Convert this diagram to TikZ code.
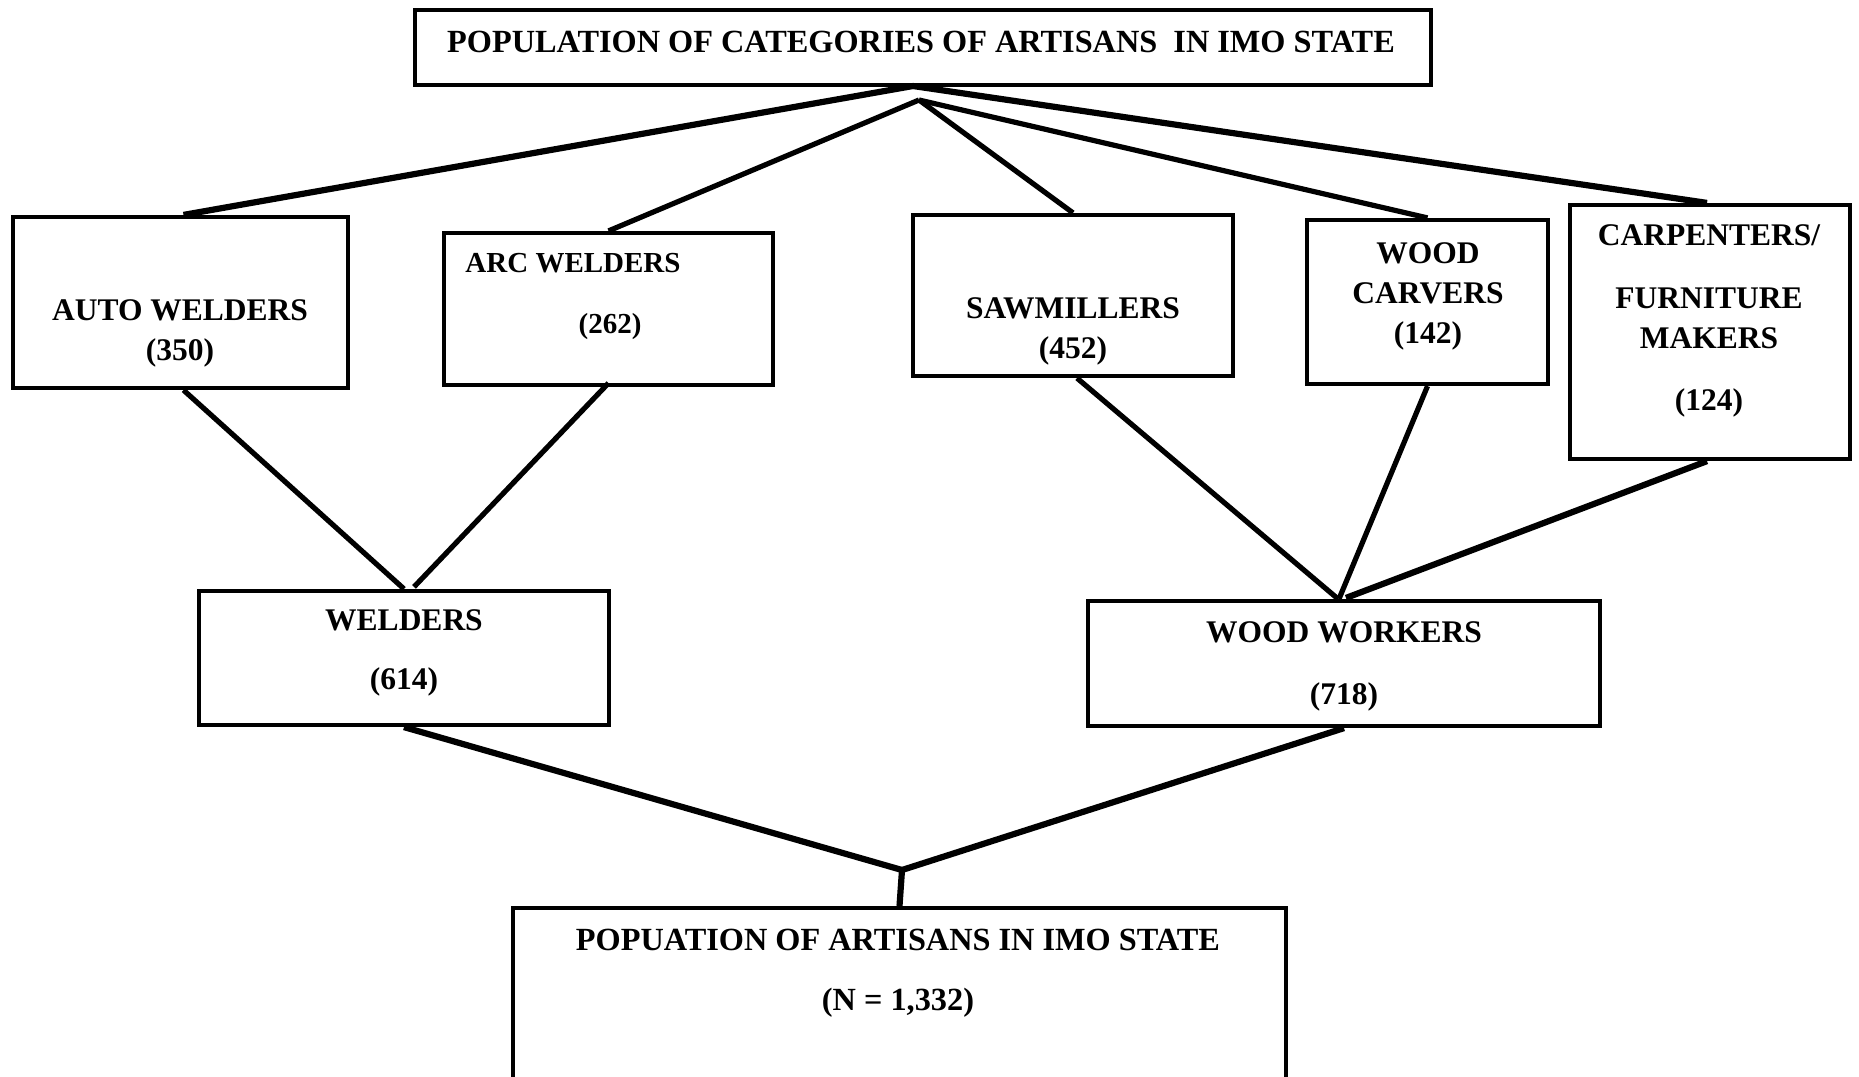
\documentclass[tikz,border=0pt]{standalone}
\usepackage{fontspec}
\setmainfont{Liberation Serif}
\begin{document}
\begin{tikzpicture}[x=1pt,y=-1pt,
  box/.style={draw=black,line width=4.2pt,rectangle,inner sep=0pt,fill=none},
  txt/.style={inner sep=0pt,align=center,font=\fontsize{31.5}{40}\selectfont\bfseries},
  bigtxt/.style={txt,font=\fontsize{32.3}{40}\selectfont\bfseries},
  smalltxt/.style={txt,font=\fontsize{29}{40}\selectfont\bfseries},
  conn/.style={line width=5.2pt,black},
  thickconn/.style={line width=6.2pt,black}]
\useasboundingbox (0,0) rectangle (1859,1076);
\clip (0,0) rectangle (1859,1076);
\fill[white] (0,0) rectangle (1859,1076);
% boxes
\node[box,minimum width=1016pt,minimum height=75pt] (title) at (923,47.5) {};
\node[box,minimum width=335pt,minimum height=171pt] (aw) at (180.5,302.5) {};
\node[box,minimum width=329pt,minimum height=152pt] (arc) at (608.5,309) {};
\node[box,minimum width=320pt,minimum height=161pt] (saw) at (1073,295.5) {};
\node[box,minimum width=241pt,minimum height=164pt] (carv) at (1427.5,302) {};
\node[box,minimum width=280pt,minimum height=254pt] (carp) at (1710,332) {};
\node[box,minimum width=410pt,minimum height=134pt] (wel) at (404,658) {};
\node[box,minimum width=512pt,minimum height=125pt] (ww) at (1344,663.5) {};
\node[box,minimum width=773pt,minimum height=192pt] (pop) at (899.5,1004) {};
% texts
\node[bigtxt,anchor=base] (titlet) at (921,52) {POPULATION OF CATEGORIES OF ARTISANS\ \ IN IMO STATE};
\node[txt,anchor=north] (awt) at (180,299) {AUTO WELDERS\\(350)};
\node[smalltxt,anchor=base] (arct1) at (573,272) {ARC WELDERS};
\node[smalltxt,anchor=base] (arct2) at (610,333) {(262)};
\node[txt,anchor=north] (sawt) at (1073,297) {SAWMILLERS\\(452)};
\node[txt,anchor=north] (carvt) at (1428,242) {WOOD\\CARVERS\\(142)};
\node[txt,anchor=north] (carpt) at (1709,224) {CARPENTERS/\\[23pt]FURNITURE\\MAKERS\\[22pt](124)};
\node[txt,anchor=north] (welt) at (404,609) {WELDERS\\[19pt](614)};
\node[txt,anchor=north] (wwt) at (1344,621) {WOOD WORKERS\\[22pt](718)};
\node[bigtxt,anchor=north] (popt) at (898,929) {POPUATION OF ARTISANS IN IMO STATE\\[20pt](N = 1,332)};
% junction points
\coordinate (apA) at (913,86);
\coordinate (apB) at (919,100);
\coordinate (jn) at (902,870);
% connectors
\draw[thickconn] (apA) -- ([xshift=3pt]aw.north);
\draw[thickconn] (apA) -- ([xshift=-3pt]carp.north);
\draw[conn] (apB) -- (arc.north);
\draw[conn] (apB) -- (saw.north);
\draw[conn] (apB) -- (carv.north);
\draw[conn] ([xshift=3pt]aw.south) -- (wel.north);
\draw[conn] ([yshift=4pt]arc.south) -- ([xshift=10pt,yshift=2pt]wel.north);
\draw[conn] ([xshift=4pt]saw.south) -- ([xshift=-6pt]ww.north);
\draw[conn] (carv.south) -- ([xshift=-5pt]ww.north);
\draw[thickconn] ([xshift=-3pt]carp.south) -- ([xshift=2pt,yshift=1pt]ww.north);
\draw[thickconn] (wel.south) -- (jn);
\draw[thickconn] (ww.south) -- (jn);
\draw[thickconn] (jn) -- (pop.north);
\end{tikzpicture}
\end{document}
